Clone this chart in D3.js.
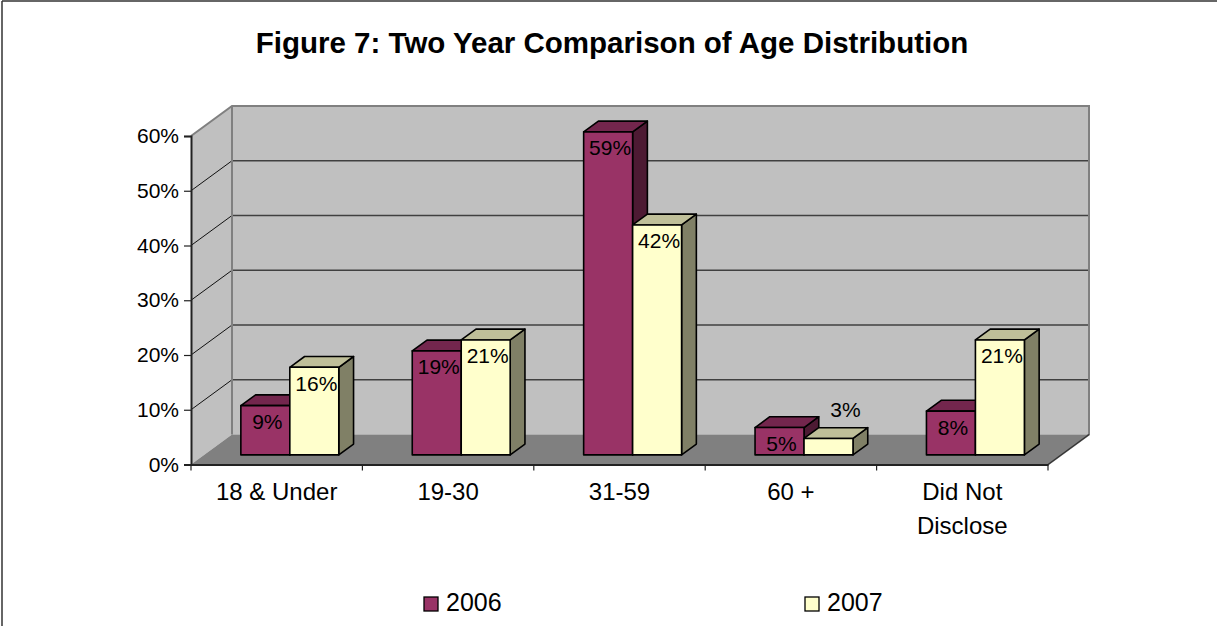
<!DOCTYPE html>
<html>
<head>
<meta charset="utf-8">
<script src="https://cdn.jsdelivr.net/npm/d3@7"></script>
<style>
  html, body { margin: 0; padding: 0; background: #fff; }
  svg { display: block; font-family: Arial, "Liberation Sans", sans-serif; }
</style>
</head>
<body>
<svg id="chart" width="1217" height="626"></svg>
<script>
// Age groups and the share of respondents in each, per year (percent)
const categories = ["18 & Under", "19-30", "31-59", "60 +", "Did Not Disclose"];
const years = ["2006", "2007"];
const values2006 = [9, 19, 59, 5, 8];
const values2007 = [16, 21, 42, 3, 21];
const yTicks = [0, 10, 20, 30, 40, 50, 60];
const titleText = "Figure 7: Two Year Comparison of Age Distribution";

const seriesValues = { "2006": values2006, "2007": values2007 };
const faceColors = {
  "2006": { front: "#993366", top: "#73264D", side: "#4D1A33" },
  "2007": { front: "#FFFFCC", top: "#BFBF99", side: "#808066" }
};

const svg = d3.select("#chart");

// 3D box geometry: the floor/walls recede by (DX, DY); bars sit in the middle slab
const DX = 41, DY = -30;
const barNear = 0.32, barFar = 0.68;

const plotLeft = 191, plotRight = 1048;
const y = d3.scaleLinear().domain([0, 60]).range([464.5, 136]);
const x0 = d3.scaleBand().domain(categories).range([plotLeft, plotRight]);
const groupW = x0.bandwidth() * 2 / 3.5;   // gap width 150%
const x1 = d3.scaleBand().domain(years).range([0, groupW]);

// outer frame
svg.append("line").attr("x1", 2).attr("y1", 1).attr("x2", 2).attr("y2", 626)
  .attr("stroke", "#333").attr("stroke-width", 1.5);
svg.append("line").attr("x1", 2).attr("y1", 1).attr("x2", 1217).attr("y2", 1)
  .attr("stroke", "#333").attr("stroke-width", 1.5);

// title
svg.append("text")
  .attr("x", 612).attr("y", 53)
  .attr("text-anchor", "middle")
  .attr("font-size", 29.5).attr("font-weight", "bold")
  .text(titleText);

const y0 = y(0), yTop = y(60);
const pts = a => a.map(p => p.join(",")).join(" ");

// side wall
svg.append("polygon")
  .attr("points", pts([[plotLeft, y0], [plotLeft, yTop], [plotLeft + DX, yTop + DY], [plotLeft + DX, y0 + DY]]))
  .attr("fill", "#C0C0C0");
// back wall
svg.append("polygon")
  .attr("points", pts([[plotLeft + DX, y0 + DY], [plotLeft + DX, yTop + DY], [plotRight + DX, yTop + DY], [plotRight + DX, y0 + DY]]))
  .attr("fill", "#C0C0C0");
// floor
svg.append("polygon")
  .attr("points", pts([[plotLeft, y0], [plotLeft + DX, y0 + DY], [plotRight + DX, y0 + DY], [plotRight, y0]]))
  .attr("fill", "#808080");

// gridlines on back and side walls
const inner = yTicks.filter(t => t > 0 && t < 60);
svg.append("g").selectAll("line").data(inner).join("line")
  .attr("x1", plotLeft + DX).attr("x2", plotRight + DX)
  .attr("y1", d => y(d) + DY).attr("y2", d => y(d) + DY)
  .attr("stroke", "#404040").attr("stroke-width", 1.3);
svg.append("g").selectAll("line").data(inner).join("line")
  .attr("x1", plotLeft).attr("x2", plotLeft + DX)
  .attr("y1", d => y(d)).attr("y2", d => y(d) + DY)
  .attr("stroke", "#111").attr("stroke-width", 1);

// wall edges
svg.append("polyline")
  .attr("points", pts([[plotLeft, yTop], [plotLeft + DX, yTop + DY], [plotRight + DX, yTop + DY], [plotRight + DX, y0 + DY], [plotRight, y0]]))
  .attr("fill", "none").attr("stroke", "#808080").attr("stroke-width", 2);
svg.append("line")
  .attr("x1", plotLeft + DX).attr("x2", plotLeft + DX)
  .attr("y1", yTop + DY).attr("y2", y0 + DY)
  .attr("stroke", "#808080").attr("stroke-width", 2);
svg.append("line")
  .attr("x1", plotRight).attr("y1", y0).attr("x2", plotRight + DX).attr("y2", y0 + DY)
  .attr("stroke", "#333").attr("stroke-width", 1.2);

// value axis
const yAxis = d3.axisLeft(y).tickValues(yTicks).tickSize(7).tickPadding(5)
  .tickFormat(d => d + "%");
const gy = svg.append("g").attr("transform", `translate(${plotLeft},0)`).call(yAxis);
gy.select(".domain").attr("stroke", "#222").attr("stroke-width", 2);
gy.selectAll(".tick line").attr("stroke", "#222").attr("stroke-width", 1.2);
gy.selectAll(".tick text").attr("font-size", 21).attr("fill", "#000")
  .attr("font-family", "Arial, 'Liberation Sans', sans-serif");

// category axis
const xAxis = d3.axisBottom(x0).tickSize(0).tickPadding(0);
const gx = svg.append("g").attr("transform", `translate(0,${y0})`).call(xAxis);
gx.select(".domain").attr("stroke", "#222").attr("stroke-width", 2);
gx.selectAll(".tick text").remove();
const edges = categories.map(c => x0(c)).concat([plotRight]);
gx.selectAll(".edge").data(edges).join("line").attr("class", "edge")
  .attr("x1", d => d).attr("x2", d => d).attr("y1", 0).attr("y2", 6)
  .attr("stroke", "#222").attr("stroke-width", 1.2);

const catLines = { "Did Not Disclose": ["Did Not", "Disclose"] };
categories.forEach(c => {
  const lines = catLines[c] || [c];
  const t = svg.append("text")
    .attr("x", x0(c) + x0.bandwidth() / 2).attr("y", y0 + 35.5)
    .attr("text-anchor", "middle").attr("font-size", 24);
  lines.forEach((ln, i) => t.append("tspan")
    .attr("x", x0(c) + x0.bandwidth() / 2).attr("dy", i === 0 ? 0 : 34).text(ln));
});

// 3D columns
const bx = barNear * DX, by = barNear * DY;
const ddx = (barFar - barNear) * DX, ddy = (barFar - barNear) * DY;
const yb = v => y(v) + by;
const bars = svg.append("g");
categories.forEach((c, i) => {
  const gStart = x0(c) + (x0.bandwidth() - groupW) / 2 + bx;
  years.forEach(yr => {
    const v = seriesValues[yr][i];
    const xl = gStart + x1(yr), xr = xl + x1.bandwidth();
    const top = yb(v), bot = yb(0);
    const col = faceColors[yr];
    const g = bars.append("g").attr("stroke", "#000").attr("stroke-width", 1.6)
      .attr("stroke-linejoin", "round");
    g.append("polygon").attr("points", pts([[xr, bot], [xr, top], [xr + ddx, top + ddy], [xr + ddx, bot + ddy]]))
      .attr("fill", col.side);
    g.append("polygon").attr("points", pts([[xl, top], [xl + ddx, top + ddy], [xr + ddx, top + ddy], [xr, top]]))
      .attr("fill", col.top);
    g.append("rect").attr("x", xl).attr("y", top).attr("width", xr - xl).attr("height", bot - top)
      .attr("fill", col.front);
  });
});

// data labels
categories.forEach((c, i) => {
  const gStart = x0(c) + (x0.bandwidth() - groupW) / 2 + bx;
  years.forEach(yr => {
    const v = seriesValues[yr][i];
    const cx = gStart + x1(yr) + x1.bandwidth() / 2;
    const top = yb(v), h = yb(0) - top;
    const fits = h >= 24;
    svg.append("text")
      .attr("x", fits ? cx + 2 : cx + 17)
      .attr("y", fits ? top + 23.5 : top - 21.5)
      .attr("text-anchor", "middle").attr("font-size", 21).attr("fill", "#000")
      .text(v + "%");
  });
});

// legend
const legendX = { "2006": 424, "2007": 805 };
years.forEach(yr => {
  svg.append("rect").attr("x", legendX[yr]).attr("y", 597).attr("width", 14).attr("height", 14)
    .attr("fill", faceColors[yr].front).attr("stroke", "#000").attr("stroke-width", 1.3);
  svg.append("text").attr("x", legendX[yr] + 22).attr("y", 611)
    .attr("font-size", 25).attr("fill", "#000").text(yr);
});
</script>
</body>
</html>
